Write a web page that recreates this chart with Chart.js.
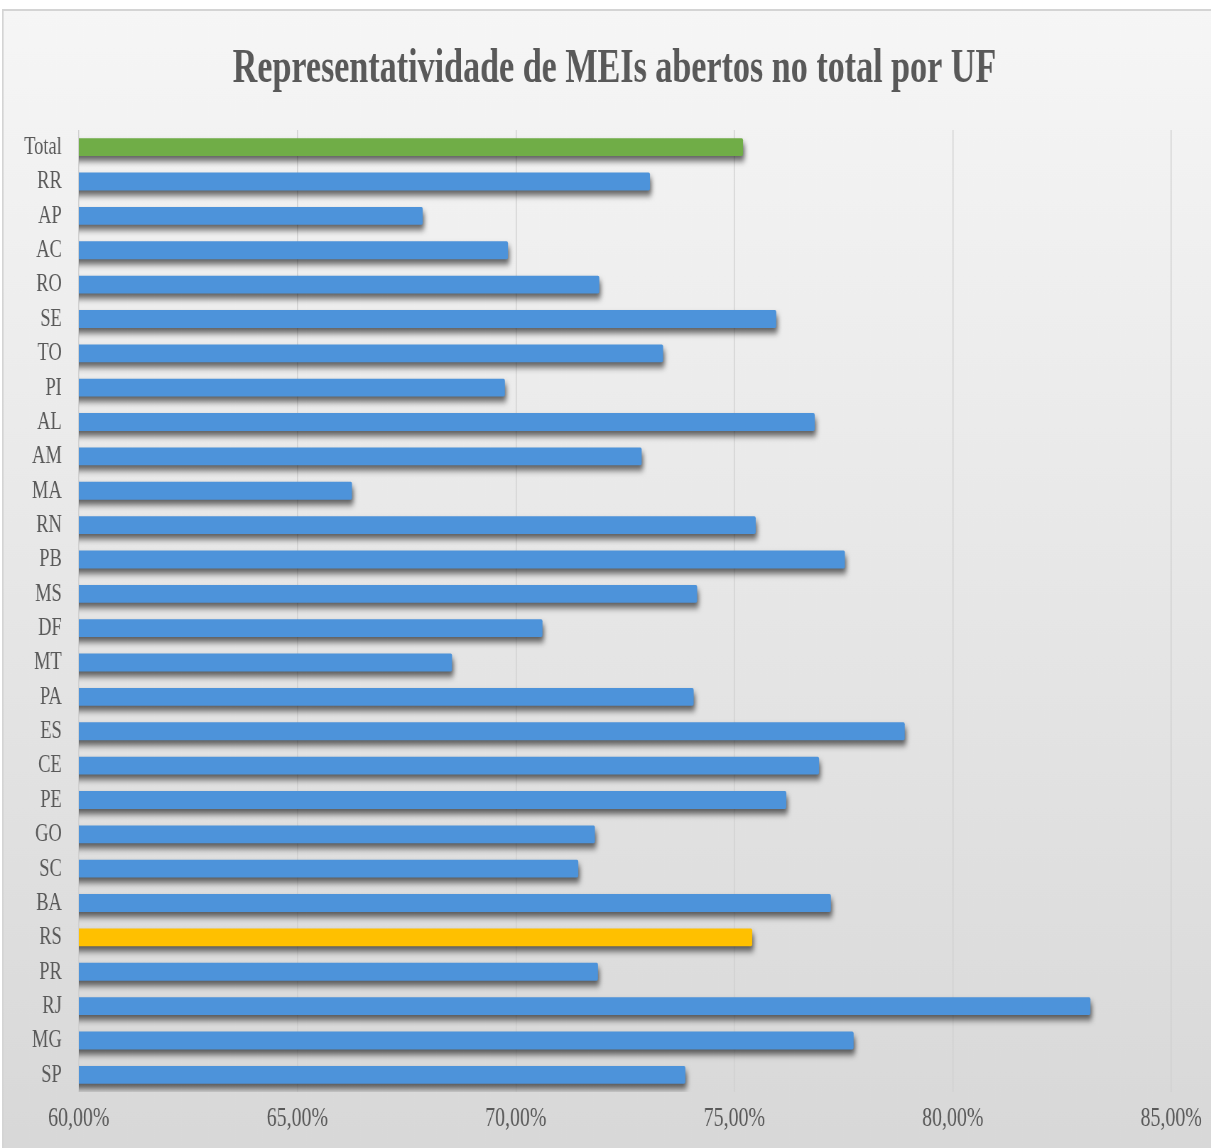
<!DOCTYPE html>
<html>
<head>
<meta charset="utf-8">
<title>Representatividade de MEIs abertos no total por UF</title>
<script src="https://cdn.jsdelivr.net/npm/chart.js@4.4.1/dist/chart.umd.min.js"></script>
<style>
  html, body { margin: 0; padding: 0; background: #ffffff; overflow: hidden; }
  /* the original chart is horizontally squeezed, so draw wide and squeeze it */
  #wrap { width: 1705px; height: 1148px; transform: scaleX(0.7103); transform-origin: 0 0; }
</style>
</head>
<body>
<div id="wrap">
  <canvas id="ufChart" width="1705" height="1148"></canvas>
</div>
<script>
const ufLabels = ['Total', 'RR', 'AP', 'AC', 'RO', 'SE', 'TO', 'PI', 'AL', 'AM', 'MA', 'RN', 'PB', 'MS',
                  'DF', 'MT', 'PA', 'ES', 'CE', 'PE', 'GO', 'SC', 'BA', 'RS', 'PR', 'RJ', 'MG', 'SP'];
const ufValues = [75.20, 73.07, 67.87, 69.82, 71.91, 75.96, 73.37, 69.75, 76.84, 72.88, 66.25, 75.49, 77.53, 74.15,
                  70.61, 68.54, 74.07, 78.90, 76.94, 76.19, 71.81, 71.43, 77.21, 75.41, 71.88, 83.15, 77.73, 73.88];
const xTicks = [60, 65, 70, 75, 80, 85];
const chartTitle = 'Representatividade de MEIs abertos no total por UF';

const blue = '#4d93da';
const green = '#70ad47';
const yellow = '#ffc000';
const textColor = '#595959';

function barColor(label) {
    if (label === 'Total') return green;
    if (label === 'RS') return yellow;
    return blue;
}

function pct(v) {
    return v.toFixed(2).replace('.', ',') + '%';
}

// frame with the grey gradient behind everything
const frameBg = {
    id: 'frameBg',
    beforeDraw(chart) {
        const ctx = chart.ctx;
        const w = chart.width, h = chart.height;
        ctx.save();
        ctx.fillStyle = '#ffffff';
        ctx.fillRect(0, 0, w, h);
        const g = ctx.createLinearGradient(0, 10, 0, h);
        g.addColorStop(0, '#f6f6f6');
        g.addColorStop(0.5, '#e7e7e7');
        g.addColorStop(1, '#d8d8d8');
        ctx.fillStyle = g;
        ctx.fillRect(4, 10, w - 4, h - 10);
        ctx.strokeStyle = '#d4d4d4';
        ctx.lineWidth = 2;
        ctx.beginPath();
        ctx.moveTo(4, h);
        ctx.lineTo(4, 10);
        ctx.lineTo(w, 10);
        ctx.stroke();
        ctx.restore();
    }
};

// title sits a little right of the canvas centre, as in the original
const titleText = {
    id: 'titleText',
    afterDraw(chart) {
        const ctx = chart.ctx;
        ctx.save();
        ctx.fillStyle = textColor;
        ctx.font = 'bold 48px "Liberation Serif"';
        ctx.textAlign = 'center';
        ctx.textBaseline = 'middle';
        ctx.fillText(chartTitle, 865, 70);
        ctx.restore();
    }
};

// soft drop shadow under the bars
const barShadow = {
    id: 'barShadow',
    beforeDatasetsDraw(chart) {
        const ctx = chart.ctx;
        ctx.save();
        ctx.shadowColor = 'rgba(0, 0, 0, 0.6)';
        ctx.shadowBlur = 6;
        ctx.shadowOffsetX = 2;
        ctx.shadowOffsetY = 5;
    },
    afterDatasetsDraw(chart) {
        chart.ctx.restore();
    }
};

const ctx = document.getElementById('ufChart').getContext('2d');

new Chart(ctx, {
    type: 'bar',
    data: {
        labels: ufLabels,
        datasets: [{
            label: 'Representatividade',
            data: ufValues,
            backgroundColor: ufLabels.map(barColor),
            borderWidth: 0,
            borderRadius: 2,
            borderSkipped: 'start',
            barPercentage: 0.52,
            categoryPercentage: 1
        }]
    },
    options: {
        indexAxis: 'y',
        responsive: false,
        devicePixelRatio: 1,
        animation: false,
        layout: {
            padding: { left: 0, right: 56, top: 130, bottom: 0 }
        },
        plugins: {
            legend: { display: false },
            tooltip: { enabled: false },
            title: { display: false }
        },
        scales: {
            x: {
                min: 60,
                max: 85,
                afterBuildTicks(scale) {
                    scale.ticks = xTicks.map(v => ({ value: v }));
                },
                afterFit(scale) {
                    scale.height = 56;
                },
                ticks: {
                    color: textColor,
                    font: { family: 'Liberation Serif', size: 28 },
                    padding: 10,
                    callback: v => pct(v)
                },
                grid: {
                    color: '#d0d0d0',
                    lineWidth: 1.4,
                    drawTicks: false
                },
                border: { display: false }
            },
            y: {
                afterFit(scale) {
                    scale.width = 111;
                },
                ticks: {
                    color: textColor,
                    font: { family: 'Liberation Serif', size: 26 },
                    padding: 24,
                    autoSkip: false
                },
                grid: { display: false, drawTicks: false },
                border: { display: false }
            }
        }
    },
    plugins: [frameBg, barShadow, titleText]
});
</script>
</body>
</html>
